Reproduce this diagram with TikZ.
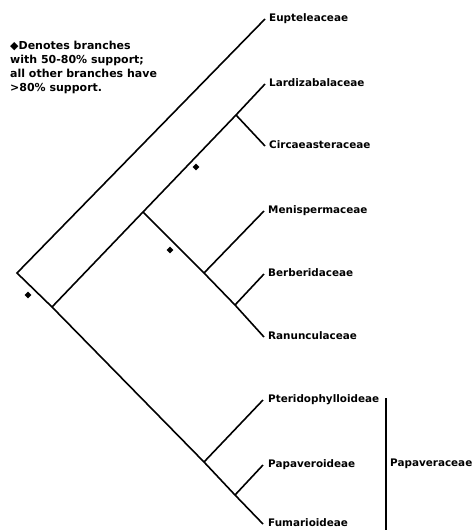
\documentclass[tikz,border=0pt]{standalone}
\usepackage{fontspec}
\setmainfont{DejaVu Sans}
\usetikzlibrary{shapes.geometric}
\begin{document}
\begin{tikzpicture}[x=1pt,y=-1pt,
  branch/.style={line width=1.6pt,line cap=butt,line join=miter},
  taxon/.style={anchor=mid west,inner sep=0pt,font=\bfseries\fontsize{10.4}{12}\selectfont},
  support/.style={diamond,fill=black,inner sep=0pt,minimum size=7pt},
  legend/.style={anchor=base west,inner sep=0pt,align=left,font=\bfseries\fontsize{11}{13.7}\selectfont}]
\useasboundingbox (0,0) rectangle (474,530);
% internal nodes
\coordinate (root) at (17,273);
\coordinate (A) at (52,307);
\coordinate (B) at (143,212);
\coordinate (E) at (236,115);
\coordinate (C) at (204,273);
\coordinate (D) at (235,305);
\coordinate (F) at (204,462);
\coordinate (G) at (235,495);
% tips
\coordinate (tEup) at (265,19);
\coordinate (tLar) at (265,84);
\coordinate (tCir) at (265,146);
\coordinate (tMen) at (264,211);
\coordinate (tBer) at (264,274);
\coordinate (tRan) at (264,337);
\coordinate (tPte) at (263,400);
\coordinate (tPap) at (263,465);
\coordinate (tFum) at (263,524);
% branches
\draw[branch] (tEup) -- (root) -- (A) -- (F) -- (G) -- (tFum);
\draw[branch] (A) -- (B) -- (E) -- (tLar);
\draw[branch] (E) -- (tCir);
\draw[branch] (B) -- (C) -- (D) -- (tRan);
\draw[branch] (C) -- (tMen);
\draw[branch] (D) -- (tBer);
\draw[branch] (F) -- (tPte);
\draw[branch] (G) -- (tPap);
% labels
\node[taxon] (lEup) at (269,19) {Eupteleaceae};
\node[taxon] (lLar) at (269,84) {Lardizabalaceae};
\node[taxon] (lCir) at (269,146) {Circaeasteraceae};
\node[taxon] (lMen) at (268,211) {Menispermaceae};
\node[taxon] (lBer) at (268,274) {Berberidaceae};
\node[taxon] (lRan) at (268,337) {Ranunculaceae};
\node[taxon] (lPte) at (268,400) {Pteridophylloideae};
\node[taxon] (lPap) at (268,465) {Papaveroideae};
\node[taxon] (lFum) at (268,524) {Fumarioideae};
% Papaveraceae bracket
\coordinate (barTop) at (386,398);
\coordinate (barBot) at (386,532);
\draw[branch] (barTop) -- (barBot);
\node[taxon] (lPapv) at (390,464) {Papaveraceae};
% support markers
\node[support] (s1) at (28,295) {};
\node[support] (s2) at (196,167) {};
\node[support] (s3) at (170,250) {};
% legend
\node[legend] (leg) at (10,91) {◆Denotes branches\\with 50-80\% support;\\all other branches have\\>80\% support.};
\end{tikzpicture}
\end{document}
